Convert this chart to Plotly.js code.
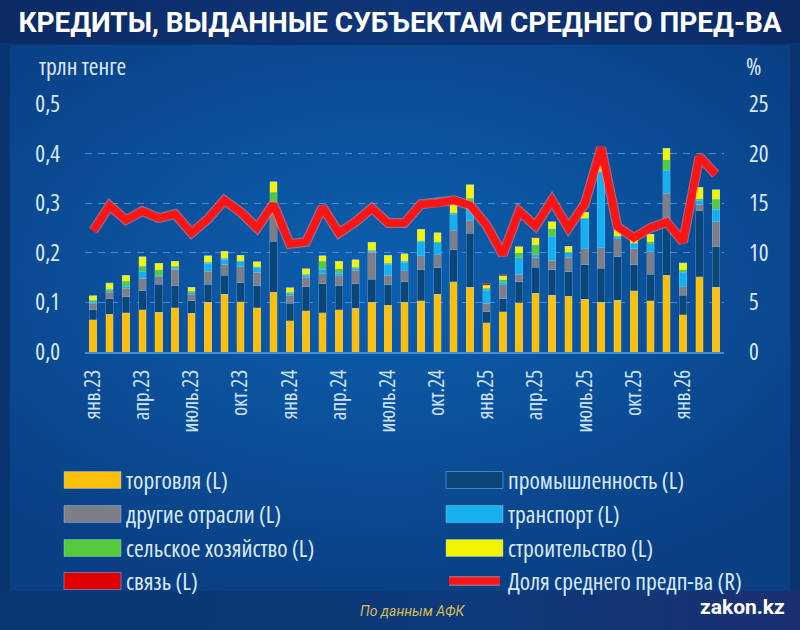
<!DOCTYPE html>
<html lang="ru">
<head>
<meta charset="utf-8">
<script src="https://cdn.plot.ly/plotly-3.0.1.min.js"></script>
<style>
  html, body { margin: 0; padding: 0; width: 800px; height: 630px; overflow: hidden; }
  body { background: #0a3470; position: relative; }
  /* condensed cut of the variable Open Sans face for labels */
  text[style*="Open Sans"] { font-stretch: 75%; }
  #titleband { position: absolute; left: 0; top: 0; width: 800px; height: 43px;
    background: linear-gradient(90deg, #0b2a66 0%, #0f3678 50%, #0b2a66 100%); }
  #panel { position: absolute; left: 10px; top: 45px; width: 780px; height: 546px;
    background: radial-gradient(ellipse 70% 60% at 48% 42%, #0d5fae 0%, #0b509a 50%, #0a3f83 100%); }
  #footer { position: absolute; left: 0; top: 591px; width: 800px; height: 39px;
    background: linear-gradient(90deg, #0a3673 0%, #0c3a7a 60%, #1b2f72 100%); }
  #chart { position: absolute; left: 0; top: 0; width: 800px; height: 630px; }
</style>
</head>
<body>
<div id="titleband"></div>
<div id="panel"></div>
<div id="footer"></div>
<div id="chart"></div>
<script>
// Monthly loans to medium-sized businesses, trillion tenge, by sector
const months = [
  "янв.23","фев.23","мар.23","апр.23","май.23","июнь.23","июль.23","авг.23","сен.23","окт.23","ноя.23","дек.23",
  "янв.24","фев.24","мар.24","апр.24","май.24","июнь.24","июль.24","авг.24","сен.24","окт.24","ноя.24","дек.24",
  "янв.25","фев.25","мар.25","апр.25","май.25","июнь.25","июль.25","авг.25","сен.25","окт.25","ноя.25","дек.25",
  "янв.26","фев.26","мар.26"
];

const trade = [0.065,0.076,0.079,0.085,0.080,0.089,0.078,0.100,0.116,0.101,0.089,0.120,
  0.063,0.083,0.079,0.085,0.088,0.100,0.094,0.100,0.103,0.116,0.142,0.131,
  0.059,0.081,0.099,0.118,0.114,0.112,0.106,0.100,0.104,0.124,0.103,0.155,
  0.075,0.152,0.131];
const industry = [0.020,0.031,0.032,0.038,0.057,0.045,0.025,0.037,0.039,0.039,0.045,0.103,
  0.035,0.049,0.059,0.049,0.050,0.047,0.042,0.042,0.063,0.054,0.064,0.108,
  0.022,0.026,0.043,0.053,0.052,0.050,0.070,0.069,0.088,0.052,0.054,0.110,
  0.039,0.133,0.081];
const other = [0.012,0.013,0.018,0.026,0.015,0.033,0.013,0.026,0.022,0.033,0.027,0.070,
  0.016,0.019,0.020,0.020,0.027,0.054,0.019,0.022,0.028,0.026,0.039,0.026,
  0.017,0.029,0.015,0.020,0.019,0.029,0.032,0.041,0.036,0.032,0.045,0.055,
  0.018,0.013,0.051];
const transport = [0.003,0.003,0.004,0.014,0.002,0.002,0.003,0.016,0.010,0.009,0.009,0.008,
  0.003,0.004,0.009,0.005,0.003,0.002,0.022,0.017,0.028,0.024,0.033,0.035,
  0.027,0.005,0.033,0.005,0.048,0.009,0.061,0.152,0.004,0.010,0.016,0.046,
  0.029,0.008,0.025];
const agriculture = [0.004,0.004,0.010,0.010,0.012,0.004,0.003,0.002,0.002,0.002,0.002,0.021,
  0.003,0.002,0.016,0.009,0.003,0.002,0.002,0.002,0.002,0.002,0.003,0.010,
  0.004,0.005,0.010,0.020,0.016,0.002,0.002,0.002,0.002,0.002,0.004,0.022,
  0.005,0.003,0.020];
const construction = [0.009,0.012,0.012,0.019,0.013,0.010,0.009,0.013,0.014,0.011,0.010,0.021,
  0.010,0.011,0.011,0.015,0.015,0.016,0.016,0.015,0.023,0.018,0.016,0.027,
  0.006,0.008,0.012,0.013,0.014,0.011,0.011,0.010,0.013,0.010,0.015,0.023,
  0.013,0.023,0.019];
const communications = [0,0.001,0,0,0,0,0,0,0,0,0,0,
  0,0,0,0,0,0,0,0,0,0,0,0,
  0.004,0.002,0,0.002,0,0,0,0,0,0,0,0,
  0.001,0,0];
// Share of medium-sized business, % (right axis)
const share = [12.2,14.75,13.3,14.2,13.5,13.9,12.0,13.4,15.3,14.1,12.5,14.9,
  10.9,11.1,14.6,12.0,13.1,14.5,13.0,13.0,14.9,15.0,15.3,14.8,
  12.8,9.8,14.2,12.7,15.3,12.5,14.9,20.6,12.6,11.5,12.5,13.1,
  11.1,19.7,17.9];

const sectorNames = ["торговля (L)","промышленность (L)","другие отрасли (L)","транспорт (L)",
  "сельское хозяйство (L)","строительство (L)","связь (L)"];
const shareName = "Доля среднего предп-ва (R)";
const sectorValues = [trade, industry, other, transport, agriculture, construction, communications];
const sectorColors = ["#fbbf0c","#0b4678","#7e7e86","#16b0ee","#57c93c","#f4f400","#e00000"];
const lineColor = "#ff1414";

const FONT = "'Open Sans', 'DejaVu Sans Condensed', sans-serif";
const TXT = "#dceaff";

// plot area in pixels
const W = 800, H = 630;
const M = { l: 85, r: 76, t: 104, b: 278 };
const PW = W - M.l - M.r, PH = H - M.t - M.b;
const px = x => (x - M.l) / PW;
const py = y => (H - M.b - y) / PH;

const traces = sectorValues.map((vals, i) => ({
  type: "bar",
  name: sectorNames[i],
  x: months,
  y: vals,
  marker: { color: sectorColors[i], line: { color: "rgba(150,200,255,0.35)", width: 0.8 } },
  hoverinfo: "x+y+name"
}));

traces.push({
  type: "scatter", mode: "lines", x: months, y: share, yaxis: "y2",
  line: { color: "rgba(255,130,130,0.55)", width: 10 }, hoverinfo: "skip", showlegend: false
});
traces.push({
  type: "scatter", mode: "lines", name: shareName, x: months, y: share, yaxis: "y2",
  line: { color: lineColor, width: 7.5 }
});

// quarter labels and category boundary ticks
const quarterLabels = months.filter((m, i) => i % 3 === 0);
const boundaryTicks = [];
for (let i = 0; i <= months.length; i += 3) boundaryTicks.push(i - 0.5);

// hand-built two-column legend
const shapes = [];
const annotations = [];
const legendItems = sectorNames.map((n, i) => ({ name: n, color: sectorColors[i], kind: "box" }));
legendItems.splice(7, 0, { name: shareName, color: lineColor, kind: "line" });
const colX = [64, 446], rowY = [480, 514, 548, 581];
legendItems.forEach((it, k) => {
  const c = k % 2, r = Math.floor(k / 2);
  const x0 = colX[c], x1 = colX[c] + 57, yc = rowY[r];
  if (it.kind === "box") {
    shapes.push({ type: "rect", xref: "paper", yref: "paper",
      x0: px(x0), x1: px(x1), y0: py(yc + 8.5), y1: py(yc - 8.5),
      fillcolor: it.color, line: { color: "rgba(150,200,255,0.45)", width: 1 } });
  } else {
    shapes.push({ type: "line", xref: "paper", yref: "paper",
      x0: px(x0 + 3), x1: px(x1 - 3), y0: py(yc), y1: py(yc),
      line: { color: "rgba(255,130,130,0.6)", width: 10 } });
    shapes.push({ type: "line", xref: "paper", yref: "paper",
      x0: px(x0 + 3), x1: px(x1 - 3), y0: py(yc), y1: py(yc),
      line: { color: it.color, width: 7 } });
  }
  annotations.push({ xref: "paper", yref: "paper", x: px(x1 + 3), y: py(yc),
    xanchor: "left", yanchor: "middle", showarrow: false, text: it.name,
    font: { family: FONT, size: 23.5, color: TXT } });
});

annotations.push({ xref: "paper", yref: "paper", x: px(37), y: py(66), xanchor: "left", yanchor: "middle",
  showarrow: false, text: "трлн тенге", font: { family: FONT, size: 23.5, color: TXT } });
annotations.push({ xref: "paper", yref: "paper", x: px(753), y: py(66), xanchor: "center", yanchor: "middle",
  showarrow: false, text: "%", font: { family: FONT, size: 23.5, color: TXT } });
annotations.push({ xref: "paper", yref: "paper", x: px(413), y: py(611), xanchor: "center", yanchor: "middle",
  showarrow: false, text: "<i>По данным АФК</i>", font: { family: "Roboto, sans-serif", size: 14, color: "#d8b95c" } });
annotations.push({ xref: "paper", yref: "paper", x: px(787), y: py(607), xanchor: "right", yanchor: "middle",
  showarrow: false, text: "<b>zakon.kz</b>", font: { family: "Roboto, sans-serif", size: 21, color: "#ffffff" } });

const layout = {
  width: W, height: H,
  margin: M,
  paper_bgcolor: "rgba(0,0,0,0)",
  plot_bgcolor: "rgba(0,0,0,0)",
  separators: ", ",
  barmode: "stack",
  bargap: 0.54,
  showlegend: false,
  title: { text: "<b>КРЕДИТЫ, ВЫДАННЫЕ СУБЪЕКТАМ СРЕДНЕГО ПРЕД-ВА</b>",
    x: 0.5, xanchor: "center", y: 1 - 22 / H, yanchor: "middle", yref: "container",
    font: { family: "Roboto, sans-serif", size: 28, color: "#ffffff" } },
  xaxis: {
    type: "category", range: [-0.5, months.length - 0.5],
    tickmode: "array", tickvals: quarterLabels, ticktext: quarterLabels,
    tickangle: -90, ticks: "", ticklabelstandoff: 8,
    tickfont: { family: FONT, size: 21, color: "#cfe3ff" },
    showline: true, linecolor: "#3d8fd6", linewidth: 1.5, showgrid: false, zeroline: false,
    fixedrange: true
  },
  xaxis2: {
    overlaying: "x", anchor: "y", side: "bottom", type: "linear",
    range: [-0.5, months.length - 0.5],
    tickmode: "array", tickvals: boundaryTicks, ticks: "outside", ticklen: 7, tickwidth: 1.3,
    tickcolor: "#3d8fd6", showticklabels: false, showgrid: false, zeroline: false, showline: false
  },
  yaxis: {
    range: [0, 0.5], dtick: 0.1, tick0: 0, tickformat: ".1f",
    showgrid: true, gridcolor: "#3c8ee0", gridwidth: 1.3, griddash: "7px,6px",
    zeroline: false, showline: false, ticks: "", ticklabelstandoff: 24,
    tickfont: { family: FONT, size: 23, color: TXT }
  },
  yaxis2: {
    overlaying: "y", side: "right", range: [0, 25], dtick: 5, tick0: 0,
    showgrid: false, zeroline: false, showline: false, ticks: "", ticklabelstandoff: 24,
    tickfont: { family: FONT, size: 23, color: TXT }
  },
  shapes: shapes,
  annotations: annotations
};

Plotly.newPlot("chart", traces, layout, { displayModeBar: false, staticPlot: true });
</script>
</body>
</html>
